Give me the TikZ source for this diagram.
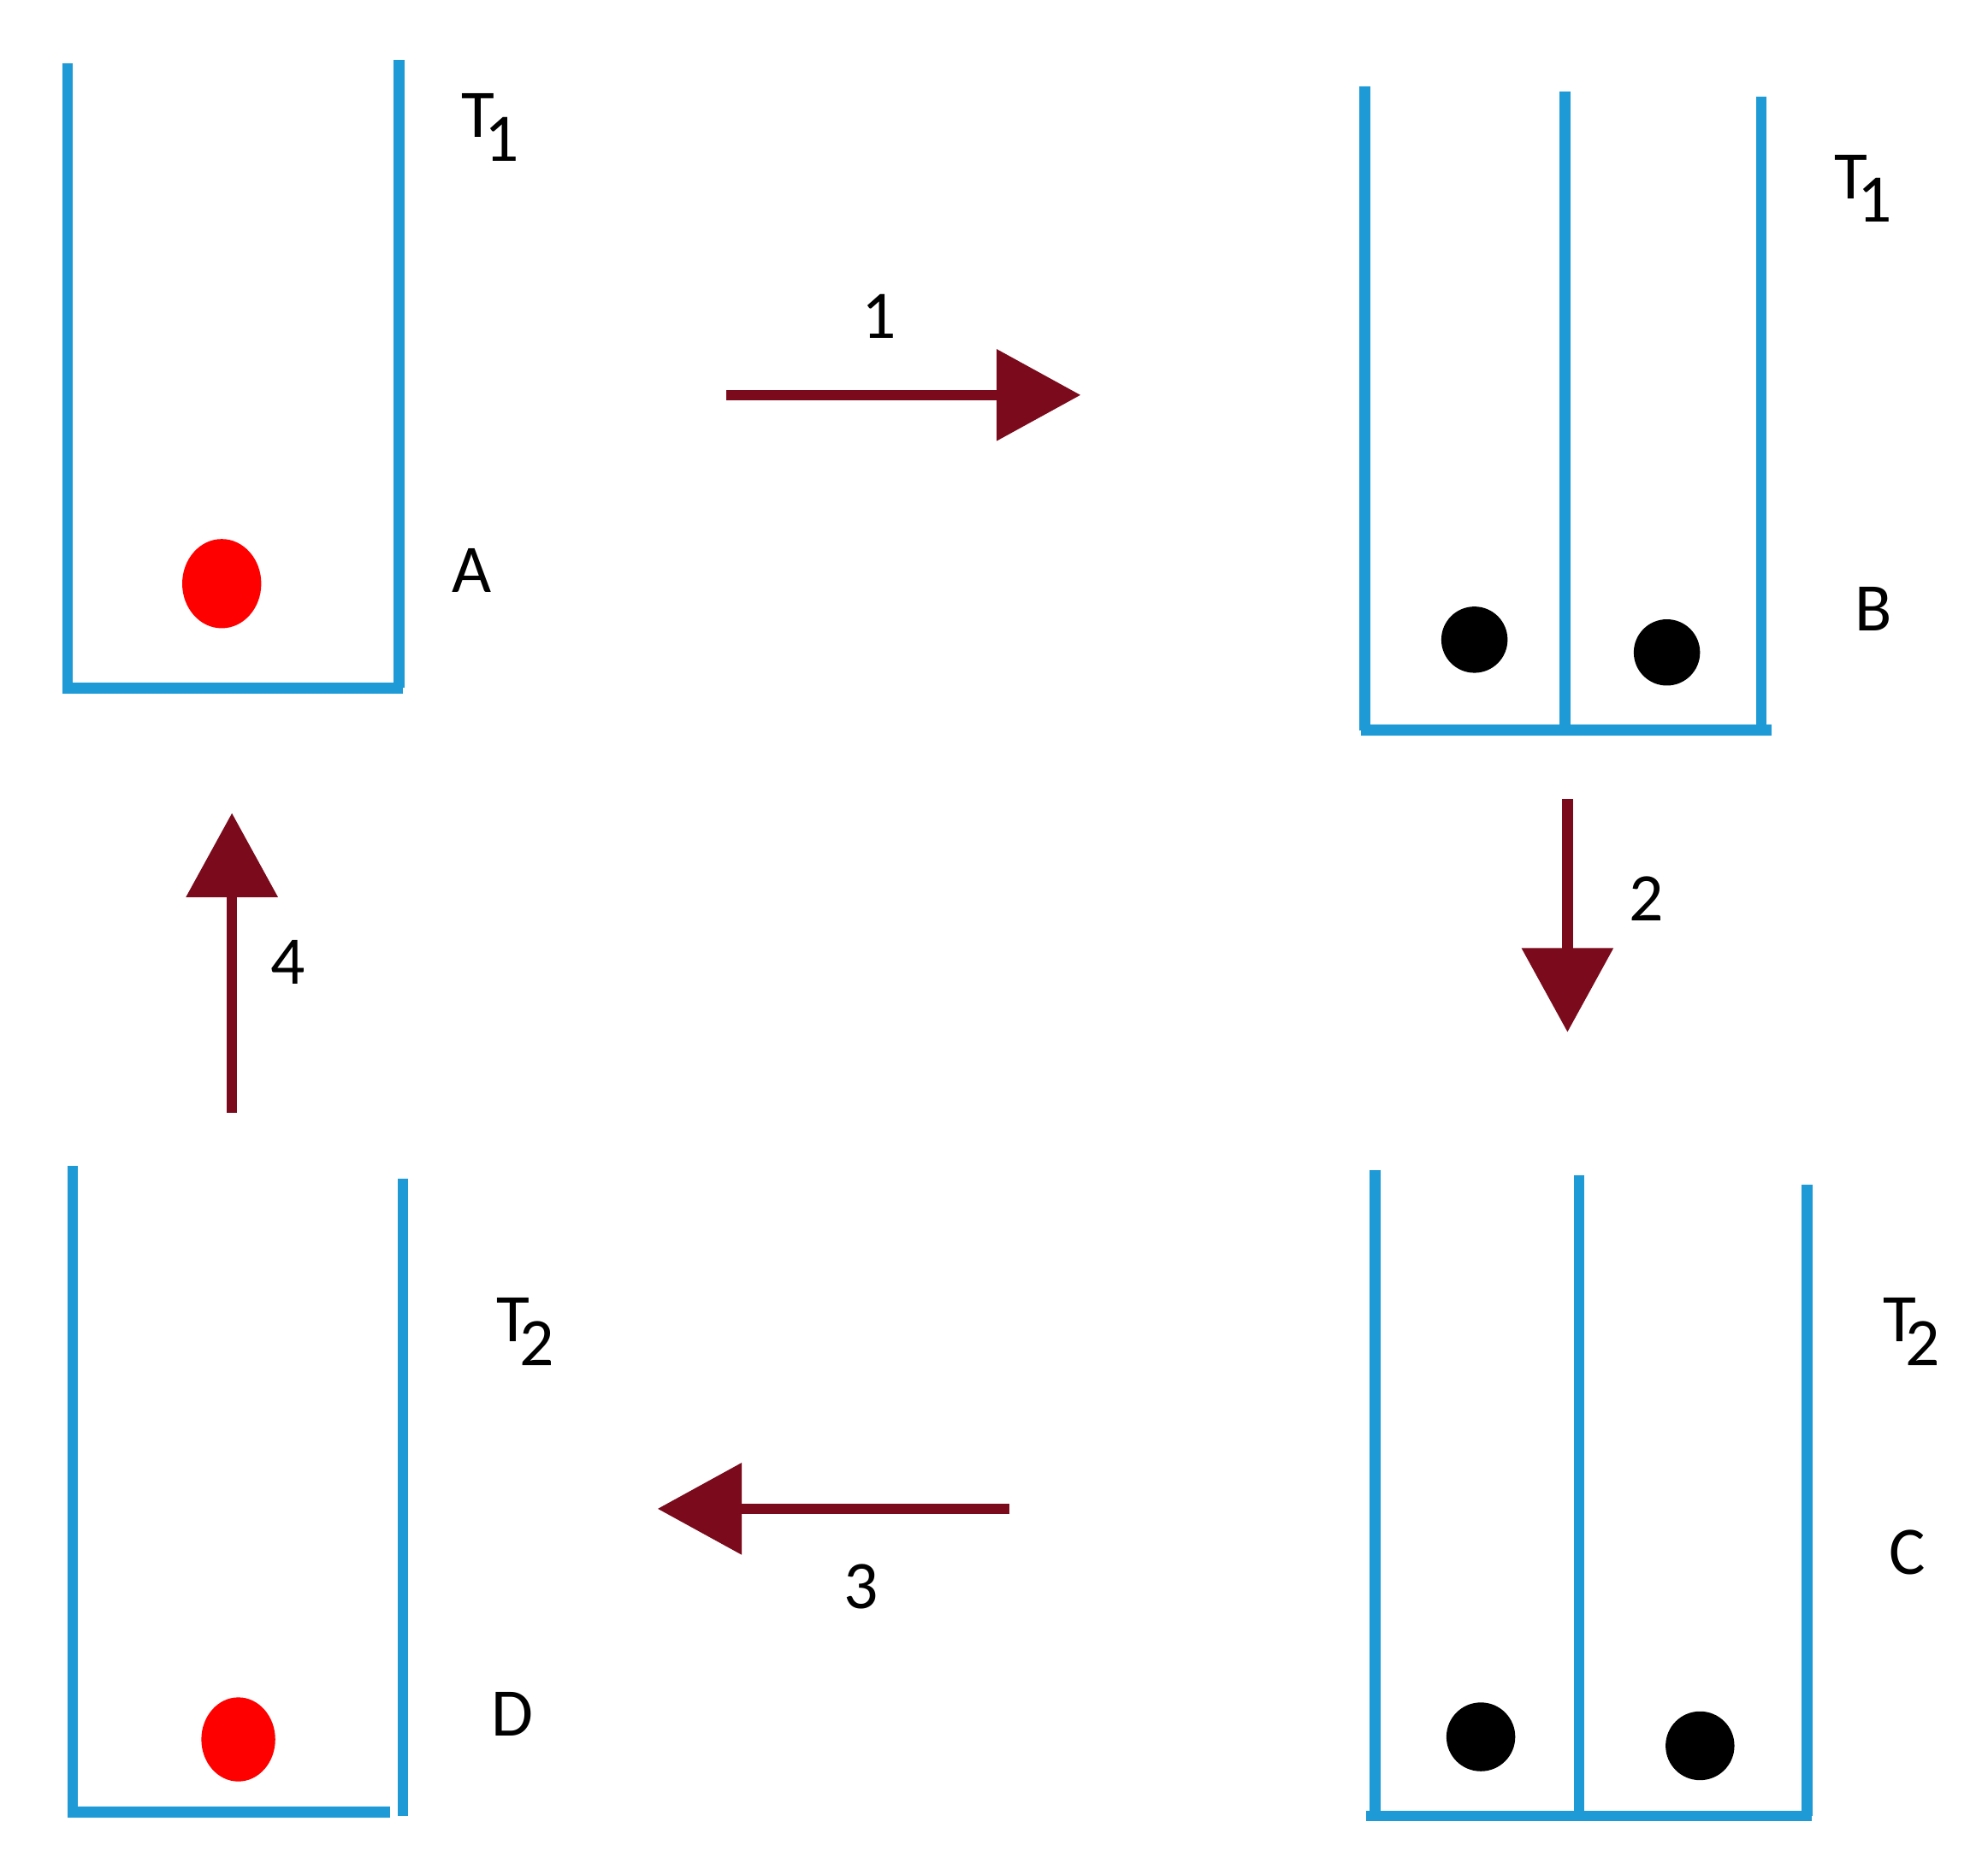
\documentclass[tikz,border=0pt]{standalone}
\usepackage{fontspec}
\setmainfont{Carlito}
\usetikzlibrary{arrows.meta}
\definecolor{wall}{HTML}{1E9AD6}
\definecolor{arr}{HTML}{7A0A1C}
\begin{document}
\begin{tikzpicture}[x=0.05cm,y=-0.05cm,
 wall/.style={draw=wall,line width=0.42cm},
 arrow/.style={draw=arr,line width=0.42cm,-{Triangle[length=3.3cm,width=3.5cm]}},
 lab/.style={font=\fontsize{76}{90}\selectfont},
 red/.style={fill=red},
 blk/.style={fill=black}]
\useasboundingbox (0,0) rectangle (1560,1457);
% Box A
\draw[wall] (53,50) -- (53,540) -- (316,540);
\draw[wall] (313,47) -- (313,540);
\fill[red] (174,458) ellipse [x radius=31,y radius=35];
\node[lab] (tA) at (385,100) {T\kern-0.15em\raisebox{-0.35em}{1}};
\node[lab] (A) at (370,448) {A};
% Box B
\draw[wall] (1071,68) -- (1071,573);
\draw[wall] (1228,72) -- (1228,573);
\draw[wall] (1382,76) -- (1382,573);
\draw[wall] (1068,573) -- (1390,573);
\fill[blk] (1157,502) ellipse [x radius=26,y radius=26];
\fill[blk] (1308,512) ellipse [x radius=26,y radius=26];
\node[lab] (tB) at (1462,148) {T\kern-0.15em\raisebox{-0.35em}{1}};
\node[lab] (B) at (1470,478) {B};
% Box C
\draw[wall] (1079,918) -- (1079,1425);
\draw[wall] (1239,922) -- (1239,1425);
\draw[wall] (1418,930) -- (1418,1425);
\draw[wall] (1072,1425) -- (1422,1425);
\fill[blk] (1162,1363) ellipse [x radius=27,y radius=27];
\fill[blk] (1334,1370) ellipse [x radius=27,y radius=27];
\node[lab] (tC) at (1500,1045) {T\kern-0.15em\raisebox{-0.35em}{2}};
\node[lab] (C) at (1497,1218) {C};
% Box D
\draw[wall] (57,915) -- (57,1422) -- (306,1422);
\draw[wall] (316,925) -- (316,1425);
\fill[red] (187,1365) ellipse [x radius=29,y radius=33];
\node[lab] (tD) at (412,1045) {T\kern-0.15em\raisebox{-0.35em}{2}};
\node[lab] (D) at (402,1345) {D};
% Arrows
\coordinate (a1s) at (570,310); \coordinate (a1e) at (848,310);
\coordinate (a2s) at (1230,627); \coordinate (a2e) at (1230,810);
\coordinate (a3s) at (792,1184); \coordinate (a3e) at (516,1184);
\coordinate (a4s) at (182,873); \coordinate (a4e) at (182,638);
\draw[arrow] (a1s) -- (a1e);
\draw[arrow] (a2s) -- (a2e);
\draw[arrow] (a3s) -- (a3e);
\draw[arrow] (a4s) -- (a4e);
\node[lab] (n1) at (690,248) {1};
\node[lab] (n2) at (1292,705) {2};
\node[lab] (n3) at (676,1245) {3};
\node[lab] (n4) at (226,755) {4};
\end{tikzpicture}
\end{document}
